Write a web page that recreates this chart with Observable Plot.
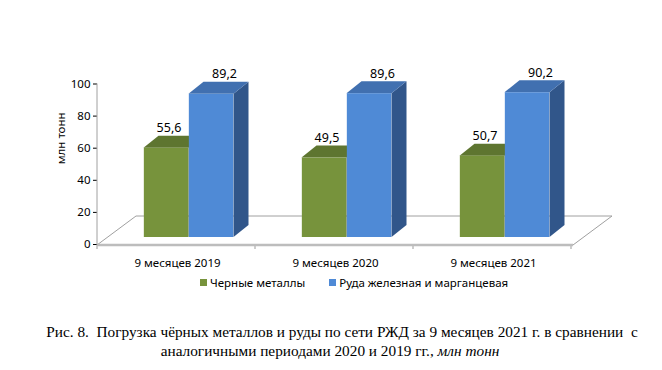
<!DOCTYPE html>
<html>
<head>
<meta charset="utf-8">
<script src="https://cdn.jsdelivr.net/npm/d3@7"></script>
<script src="https://cdn.jsdelivr.net/npm/@observablehq/plot@0.6"></script>
<style>
  html, body { margin: 0; padding: 0; background: #fff; }
  #wrap { position: relative; width: 662px; height: 370px; overflow: hidden; }
  #chart { position: absolute; left: 0; top: 0; }
  #legend { position: absolute; left: 200px; top: 275px; display: flex; align-items: center;
            font-family: "Noto Sans", sans-serif; font-size: 11.5px; color: #000; white-space: nowrap; }
  #legend .sw { display: inline-block; width: 7px; height: 7px; margin-right: 3px; }
  #legend .item { display: flex; align-items: center; }
  .cap { position: absolute; font-family: "Liberation Serif", "Times New Roman", serif; font-size: 15.3px;
         color: #000; white-space: pre; }
</style>
</head>
<body>
<div id="wrap">
  <div id="chart"></div>
  <div id="legend"></div>
  <div class="cap" id="cap1" style="left:0;width:684px;text-align:center;top:323px;">Рис. 8.  Погрузка чёрных металлов и руды по сети РЖД за 9 месяцев 2021 г. в сравнении  с</div>
  <div class="cap" id="cap2" style="left:0;width:660px;text-align:center;top:342px;">аналогичными периодами 2020 и 2019 гг., <i>млн тонн</i></div>
</div>
<script>
const periods = ["9 месяцев 2019", "9 месяцев 2020", "9 месяцев 2021"];
const seriesNames = ["Черные металлы", "Руда железная и марганцевая"];
const metals = [55.6, 49.5, 50.7];
const ore = [89.2, 89.6, 90.2];
const yTicks = [0, 20, 40, 60, 80, 100];
const yLabel = "млн тонн";

const frontColors = ["#77933c", "#4f8ad6"];
const topColors = ["#5e7530", "#4170b0"];
const sideColors = ["#4f6228", "#31568a"];

const seriesValues = [metals, ore];
const rows = [];
seriesValues.forEach((vals, s) => vals.forEach((v, i) => rows.push({cat: periods[i], s, value: v})));

// geometry (pixel styling)
const barW = 45, groupLeft = -33.5, lift = -7, depthX = 15, depthY = -12;
const floorDX = 39, floorDY = -29;

function makeEl(tag, attrs) {
  const el = document.createElementNS("http://www.w3.org/2000/svg", tag);
  for (const k in attrs) el.setAttribute(k, attrs[k]);
  return el;
}

function floorMark(index, scales) {
  const g = makeEl("g", {});
  const [x0, x1] = scales.x.range();
  const y0 = scales.y(0) + 1;
  const pts = [[x0, y0], [x1, y0], [x1 + floorDX, y0 + floorDY], [x0 + floorDX, y0 + floorDY]];
  g.appendChild(makeEl("polygon", {points: pts.map(p => p.join(",")).join(" "), fill: "#fff", stroke: "#a0a0a0", "stroke-width": 1}));
  g.appendChild(makeEl("line", {x1: x0, x2: x1, y1: y0, y2: y0, stroke: "#bdbdbd", "stroke-width": 2.5}));
  const bw = scales.x.bandwidth();
  for (let i = 0; i <= periods.length; i++) {
    const x = x0 + i * bw;
    g.appendChild(makeEl("line", {x1: x, x2: x, y1: y0, y2: y0 + 4, stroke: "#bdbdbd", "stroke-width": 1.5}));
  }
  g.appendChild(makeEl("line", {x1: x0, x2: x0, y1: scales.y(100), y2: y0, stroke: "#a0a0a0", "stroke-width": 1}));
  return g;
}

function depthMark(index, scales) {
  const g = makeEl("g", {});
  const bw = scales.x.bandwidth();
  rows.forEach(d => {
    const c = scales.x(d.cat) + bw / 2;
    const xl = c + groupLeft + d.s * barW, xr = xl + barW;
    const yt = scales.y(d.value) + lift, yb = scales.y(0) + lift;
    const side = [[xr, yt], [xr + depthX, yt + depthY], [xr + depthX, yb + depthY], [xr, yb]];
    const top = [[xl, yt], [xl + depthX, yt + depthY], [xr + depthX, yt + depthY], [xr, yt]];
    g.appendChild(makeEl("polygon", {points: side.map(p => p.join(",")).join(" "), fill: sideColors[d.s]}));
    g.appendChild(makeEl("polygon", {points: top.map(p => p.join(",")).join(" "), fill: topColors[d.s]}));
  });
  return g;
}

const bandW = (573 - 97) / periods.length;
const half = bandW / 2;

const chart = Plot.plot({
  width: 662,
  height: 270,
  marginLeft: 97,
  marginRight: 89,
  marginTop: 83.5,
  marginBottom: 26,
  style: {fontFamily: "'Noto Sans', sans-serif", fontSize: "11.5px", color: "#000", background: "transparent", overflow: "visible"},
  x: {domain: periods, padding: 0, tickSize: 0, tickPadding: 14, label: null},
  y: {domain: [0, 100], ticks: yTicks, tickSize: 4, tickPadding: 3, label: null},
  marks: [
    floorMark,
    depthMark,
    Plot.barY(rows.filter(d => d.s === 0), {x: "cat", y: "value", fill: frontColors[0],
      insetLeft: half + groupLeft, insetRight: half - groupLeft - barW, dy: lift}),
    Plot.barY(rows.filter(d => d.s === 1), {x: "cat", y: "value", fill: frontColors[1],
      insetLeft: half + groupLeft + barW, insetRight: half - groupLeft - 2 * barW, dy: lift}),
    Plot.text(rows.filter(d => d.s === 0), {x: "cat", y: "value", text: d => String(d.value).replace(".", ","),
      dx: -8.5, dy: lift - 20, fontSize: 12.5}),
    Plot.text(rows.filter(d => d.s === 1), {x: "cat", y: "value", text: d => String(d.value).replace(".", ","),
      dx: 47, dy: lift - 20, fontSize: 12.5}),
    Plot.text([yLabel], {frameAnchor: "left", text: d => d, rotate: -90, dx: -36, fontSize: 11.5})
  ]
});
document.getElementById("chart").appendChild(chart);

const legend = document.getElementById("legend");
seriesNames.forEach((name, s) => {
  const item = document.createElement("span");
  item.className = "item";
  item.style.marginRight = s === 0 ? "24px" : "0";
  const sw = document.createElement("span");
  sw.className = "sw";
  sw.style.background = frontColors[s];
  const t = document.createElement("span");
  t.textContent = name;
  item.appendChild(sw); item.appendChild(t);
  legend.appendChild(item);
});
</script>
</body>
</html>
